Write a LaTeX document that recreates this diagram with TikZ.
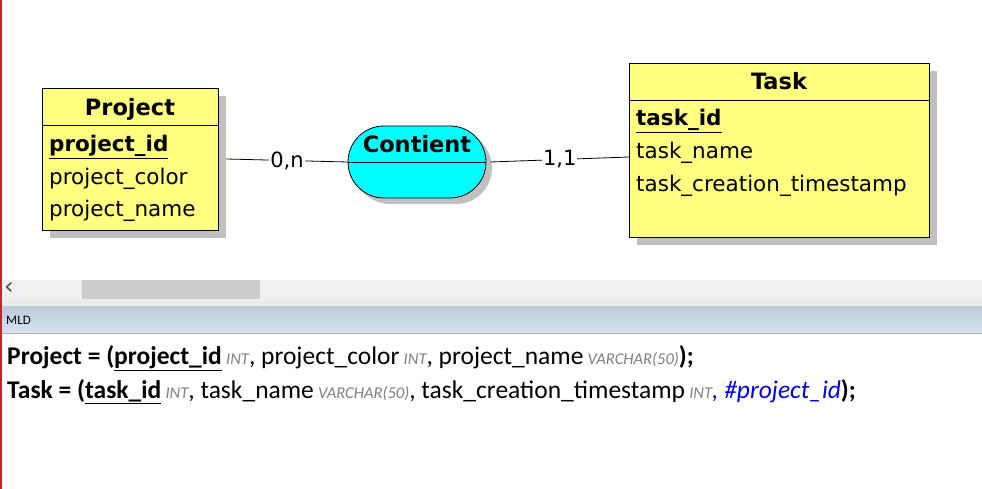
\documentclass[tikz,border=0pt]{standalone}
\usepackage{fontspec}
\setmainfont{DejaVu Sans}
\newfontfamily\mldfont{Carlito}
\usetikzlibrary{shapes.misc,shadows}

\definecolor{entityyellow}{RGB}{255,255,128}
\definecolor{assoccyan}{RGB}{0,255,255}
\definecolor{shadowgray}{RGB}{192,192,192}
\definecolor{scrollgray}{RGB}{240,240,240}
\definecolor{thumbgray}{RGB}{205,205,205}
\definecolor{typegray}{RGB}{128,128,128}
\definecolor{fkblue}{RGB}{0,0,230}
\definecolor{borderred}{RGB}{190,40,40}
\definecolor{paneltop}{RGB}{188,202,217}
\definecolor{panelbottom}{RGB}{214,226,238}

\newcommand{\pk}[1]{\underline{\textbf{#1}}}
\newcommand{\typ}[1]{\,{\color{typegray}\itshape\fontsize{16.5}{16.5}\selectfont #1}}

\begin{document}
\begin{tikzpicture}[x=1pt,y=-1pt]
    % --- CONFIGURAZIONE ---
    \tikzset{
        entity_style/.style={draw=black, fill=entityyellow, line width=0.8pt, inner sep=0pt,
            drop shadow={shadow xshift=8pt, shadow yshift=-8pt, fill=shadowgray, opacity=1}},
        assoc_style/.style={rounded rectangle, draw=black, fill=assoccyan, line width=0.8pt,
            inner sep=0pt, minimum width=138pt, minimum height=72pt,
            drop shadow={shadow xshift=6pt, shadow yshift=-6pt, fill=shadowgray, opacity=1}},
        title_style/.style={font=\fontsize{22.5}{22.5}\selectfont\bfseries, anchor=base, inner sep=0pt},
        attr_style/.style={font=\fontsize{21.5}{21.5}\selectfont, anchor=base west, inner sep=0pt},
        card_style/.style={font=\fontsize{21}{21}\selectfont, fill=white, inner sep=1pt},
        link_style/.style={line width=0.8pt},
        mld_style/.style={font=\mldfont\fontsize{25.5}{25.5}\selectfont, anchor=base west, inner sep=0pt}
    }

    % sfondo e cornice
    \useasboundingbox (0,0) rectangle (982,489);
    \fill[white] (0,0) rectangle (982,489);

    % ===================================================
    % 1. ENTITA' E ASSOCIAZIONE
    % ===================================================
    \node[entity_style, minimum width=176pt, minimum height=142pt] (project) at (130,159) {};
    \draw (project.north west) ++(0,38) -- ++(176,0);
    \node[title_style] (projecttitle) at (130,116) {Project};
    \node[attr_style] (p1) at (49,152) {\pk{project\_id}};
    \node[attr_style] (p2) at (49,184.5) {project\_color};
    \node[attr_style] (p3) at (49,216.5) {project\_name};

    \node[entity_style, minimum width=300pt, minimum height=174pt] (task) at (779,150) {};
    \draw (task.north west) ++(0,38) -- ++(300,0);
    \node[title_style] (tasktitle) at (779,90) {Task};
    \node[attr_style] (t1) at (636,125.5) {\pk{task\_id}};
    \node[attr_style] (t2) at (636,159) {task\_name};
    \node[attr_style] (t3) at (636,191.5) {task\_creation\_timestamp};

    \node[assoc_style] (contient) at (417,162) {};
    \draw (contient.west) -- (contient.east);
    \node[title_style] (contienttitle) at (417,152.5) {Contient};

    % Collegamenti
    \coordinate (taskin) at (629,157);
    \draw[link_style] ([xshift=8pt]project.east) -- node[card_style] (c1) {0,n} (contient.west);
    \draw[link_style] ([xshift=4pt]contient.east) -- node[card_style] (c2) {1,1} (taskin);

    % ===================================================
    % 2. BARRA DI SCORRIMENTO E PANNELLO MLD
    % ===================================================
    \fill[scrollgray] (0,280) rectangle (982,300);
    \fill[thumbgray] (82,280) rectangle (260,299);
    \node[text=black!70, font=\fontsize{24}{24}\selectfont, anchor=west, inner sep=0pt] (scrollleft) at (4,288) {‹};
    \fill[black!8] (0,300) rectangle (982,306);
    \shade[top color=paneltop, bottom color=panelbottom] (0,306) rectangle (982,333);
    \draw[black!30] (0,333.5) -- (982,333.5);
    \node[font=\mldfont\fontsize{13}{13}\selectfont, anchor=west, inner sep=0pt] (mldtitle) at (6,320) {MLD};

    \node[mld_style] (mld1) at (7,364) {\textbf{Project = (}\pk{project\_id}\typ{INT}, project\_color\typ{INT}, project\_name\typ{VARCHAR(50)}\textbf{);}};
    \node[mld_style] (mld2) at (7,398.5) {\textbf{Task = (}\pk{task\_id}\typ{INT}, task\_name\typ{VARCHAR(50)}, task\_creation\_timestamp\typ{INT}{\color{fkblue}\itshape, \#project\_id}\textbf{);}};

    % bordo rosso a sinistra
    \draw[borderred, line width=2pt] (1,0) -- (1,489);
\end{tikzpicture}
\end{document}
